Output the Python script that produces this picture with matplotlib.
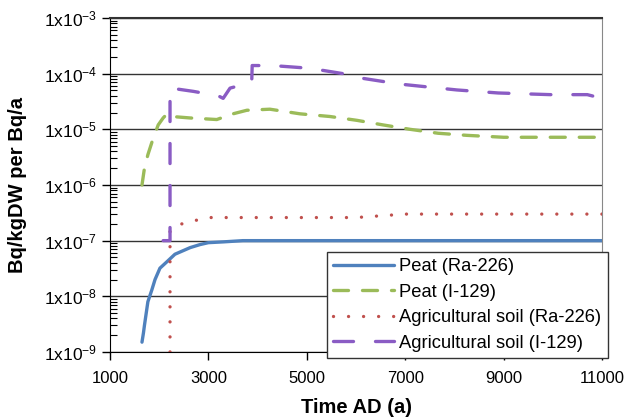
import matplotlib
matplotlib.use("Agg")
import numpy as np
import matplotlib.pyplot as plt
from matplotlib.ticker import LogLocator, FixedLocator, NullFormatter

plt.rcParams["font.family"] = ["Liberation Sans", "DejaVu Sans"]
plt.rcParams["mathtext.fontset"] = "custom"
plt.rcParams["mathtext.rm"] = "Liberation Sans"
plt.rcParams["mathtext.it"] = "Liberation Sans:italic"
plt.rcParams["mathtext.bf"] = "Liberation Sans:bold"

# Peat (Ra-226)
peat_ra_t = [1650, 1680, 1700, 1770, 1850, 1915, 2015, 2160, 2320, 2630, 2830, 3000, 3300, 3700, 11000]
peat_ra_v = [1.5e-9, 2.2e-9, 3e-9, 8e-9, 1.3e-8, 2e-8, 3.2e-8, 4.2e-8, 5.7e-8, 7.5e-8, 8.5e-8,
             9.2e-8, 9.5e-8, 1e-7, 1e-7]

# Peat (I-129)
peat_i_t = [1650, 1700, 1770, 1880, 1980, 2080, 2160, 2260, 2630, 3170, 3500, 3780, 4250, 4860,
            5470, 6020, 6550, 7100, 7670, 8250, 9000, 11000]
peat_i_v = [1e-6, 2e-6, 3.5e-6, 7e-6, 1.2e-5, 1.6e-5, 1.9e-5, 1.7e-5, 1.6e-5, 1.5e-5, 1.9e-5,
            2.2e-5, 2.3e-5, 1.9e-5, 1.7e-5, 1.45e-5, 1.2e-5, 1e-5, 8.5e-6, 7.8e-6, 7.2e-6, 7.2e-6]

# Agricultural soil (Ra-226)
agri_ra_t = [2220, 2220, 2300, 2460, 2730, 3000, 6000, 7000, 11000]
agri_ra_v = [1e-9, 1.5e-7, 1.8e-7, 2.0e-7, 2.3e-7, 2.6e-7, 2.6e-7, 3e-7, 3e-7]

# Agricultural soil (I-129)
agri_i_t = [2080, 2220, 2220, 2300, 2700, 3200, 3300, 3440, 3880, 3890, 4300, 5060, 5740, 6040,
            6890, 8050, 8890, 9950, 10700, 11000]
agri_i_v = [1e-7, 1e-7, 5.5e-5, 5.4e-5, 4.8e-5, 4e-5, 3.6e-5, 5.5e-5, 7e-5, 1.4e-4, 1.4e-4,
            1.25e-4, 1.0e-4, 8.5e-5, 6.5e-5, 5.1e-5, 4.5e-5, 4.2e-5, 4.2e-5, 3.6e-5]

x_ticks = [1000, 3000, 5000, 7000, 9000, 11000]
y_exps = [-9, -8, -7, -6, -5, -4, -3]

fig = plt.figure(figsize=(6.3, 4.19), dpi=100)
ax = fig.add_axes([0.1746, 0.160, 0.781, 0.797])

ax.set_yscale("log")
ax.set_xlim(1000, 11000)
ax.set_ylim(1e-9, 1e-3)

for e in y_exps:
    ax.axhline(10.0 ** e, color="#333333", linewidth=1.0, zorder=1)

lw = 2.4
ax.plot(peat_ra_t, peat_ra_v, color="#4F81BD", linewidth=lw, solid_capstyle="round",
        label="Peat (Ra-226)", zorder=3)
ax.plot(peat_i_t, peat_i_v, color="#9BBB59", linewidth=lw, dashes=(4.5, 4.2),
        dash_capstyle="round", label="Peat (I-129)", zorder=3)
ax.plot(agri_ra_t, agri_ra_v, color="#C0504D", linewidth=lw, dashes=(0.01, 4.5),
        dash_capstyle="round", label="Agricultural soil (Ra-226)", zorder=3)
ax.plot(agri_i_t, agri_i_v, color="#8A5CC4", linewidth=lw, dashes=(6.0, 6.6),
        dash_capstyle="round", label="Agricultural soil (I-129)", zorder=3)

ax.xaxis.set_major_locator(FixedLocator(x_ticks))
ax.set_xticklabels([str(t) for t in x_ticks], fontsize=12)
ax.yaxis.set_major_locator(FixedLocator([10.0 ** e for e in y_exps]))
ax.set_yticklabels([r"1x10$^{%d}$" % e for e in y_exps], fontsize=12.5)
ax.yaxis.set_minor_locator(LogLocator(base=10, subs=np.arange(2, 10)))
ax.yaxis.set_minor_formatter(NullFormatter())
ax.tick_params(axis="both", which="major", direction="out", length=6, width=1)
ax.tick_params(axis="x", which="major", pad=8)
ax.tick_params(axis="y", which="major", pad=3)
ax.tick_params(axis="y", which="minor", direction="in", length=5, width=0.8)
ax.tick_params(axis="x", which="minor", length=0)

ax.spines["right"].set_color("#888888")
ax.spines["top"].set_color("#333333")
ax.spines["top"].set_linewidth(1.5)

ax.set_xlabel("Time AD (a)", fontsize=14.5, fontweight="bold")
ax.xaxis.set_label_coords(0.5, -0.138)
ax.set_ylabel("Bq/kgDW per Bq/a", fontsize=14.5, fontweight="bold")
ax.yaxis.set_label_coords(-0.168, 0.5)

leg = ax.legend(loc="lower right", bbox_to_anchor=(1.012, -0.018), borderaxespad=0,
                fontsize=13.2, handlelength=3.3, handletextpad=0.3, labelspacing=0.46,
                borderpad=0.35, fancybox=False, framealpha=1, edgecolor="#333333")
leg.get_frame().set_linewidth(1.0)
leg.set_zorder(5)

fig.savefig("out.png", dpi=100)
